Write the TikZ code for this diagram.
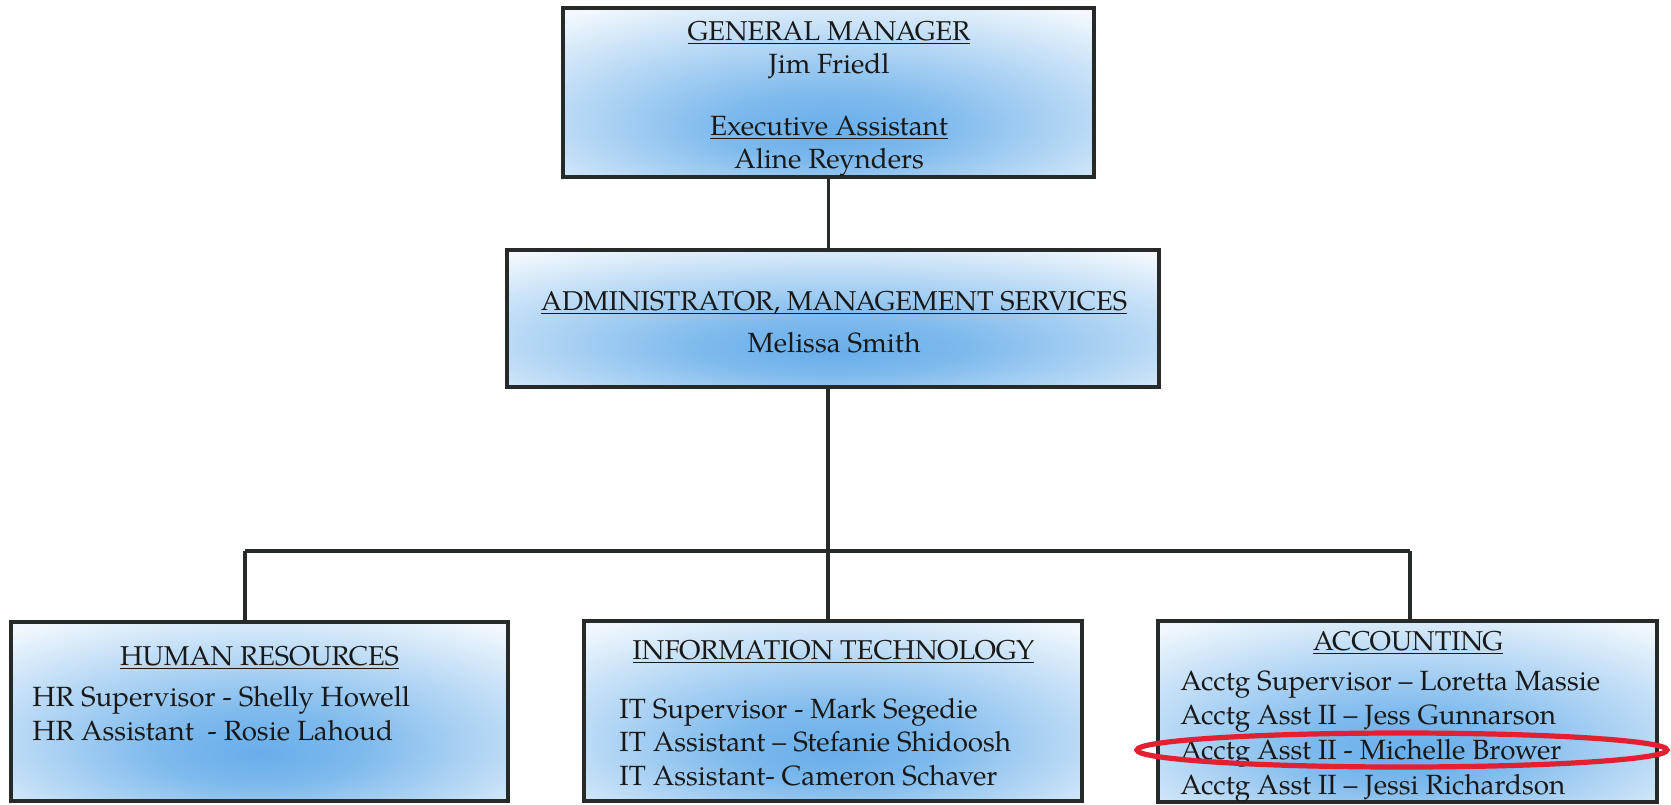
\documentclass[tikz,border=0pt]{standalone}
\usepackage{fontspec}
\setmainfont{TeX Gyre Pagella}
\definecolor{bluein}{RGB}{104,174,234}
\definecolor{blueout}{RGB}{242,248,253}
\definecolor{edge}{RGB}{38,42,40}
\definecolor{ink}{RGB}{25,25,25}
\definecolor{markred}{RGB}{226,32,50}
\pgfdeclareradialshading{orgshade}{\pgfpoint{0bp}{-12bp}}{color(0bp)=(bluein); color(10bp)=(bluein!85!blueout); color(38bp)=(blueout); color(80bp)=(blueout)}
\newcommand\hdul[1]{\setbox0\hbox{#1}\rlap{\rule[-2.2pt]{\wd0}{0.7pt}}\box0}
\begin{document}
\begin{tikzpicture}[x=0.5pt,y=-0.5pt,
  box/.style={draw=edge, line width=2pt, shading=orgshade, rectangle, inner sep=0pt},
  link/.style={draw=edge, line width=1.6pt},
  txt/.style={anchor=base, text=ink, font=\fontsize{13.6}{16}\selectfont, inner sep=0pt},
  ltxt/.style={txt, anchor=base west, font=\fontsize{13.9}{16}\selectfont}]
\useasboundingbox (0,0) rectangle (1671,804);
\fill[white] (0,0) rectangle (1671,804);
% boxes
\node[box, minimum width=265.5pt, minimum height=84.5pt] (gm) at (828.5,92.5) {};
\node[box, minimum width=326pt, minimum height=68.5pt] (admin) at (833,318.5) {};
\node[box, minimum width=248.5pt, minimum height=89.5pt] (hr) at (259.5,711.5) {};
\node[box, minimum width=249pt, minimum height=90pt] (it) at (833,711) {};
\node[box, minimum width=249.5pt, minimum height=90.5pt] (acct) at (1407.5,711.5) {};
% connectors
\coordinate (bus) at (828,551);
\coordinate (busL) at (245,551);
\coordinate (busR) at (1410,551);
\draw[link] (gm.south) -- (gm.south |- admin.north);
\draw[link] (bus |- admin.south) -- (bus);
\draw[link] (busL) -- (busR);
\draw[link] (busL) -- (busL |- hr.north);
\draw[link] (bus) -- (bus |- it.north);
\draw[link] (busR) -- (busR |- acct.north);
% general manager
\node[txt] (gmt) at (829,40) {\hdul{GENERAL MANAGER}};
\node[txt] (gmn) at (829,73) {\fontsize{13.9}{16}\selectfont Jim Friedl};
\node[txt] (eat) at (829,135) {\fontsize{13.9}{16}\selectfont\hdul{Executive Assistant}};
\node[txt] (ean) at (829,168) {\fontsize{13.9}{16}\selectfont Aline Reynders};
% administrator
\node[txt] (adt) at (834,310) {\hdul{ADMINISTRATOR, MANAGEMENT SERVICES}};
\node[txt] (adn) at (834,352) {\fontsize{13.9}{16}\selectfont Melissa Smith};
% human resources
\node[txt] (hrt) at (259.5,665) {\hdul{HUMAN RESOURCES}};
\node[ltxt] (hr1) at (32,706) {HR Supervisor - Shelly Howell};
\node[ltxt] (hr2) at (32,740) {HR Assistant\ \ - Rosie Lahoud};
% information technology
\node[txt] (itt) at (833.5,659) {\hdul{INFORMATION TECHNOLOGY}};
\node[ltxt] (it1) at (619,718) {IT Supervisor - Mark Segedie};
\node[ltxt] (it2) at (619,751) {IT Assistant – Stefanie Shidoosh};
\node[ltxt] (it3) at (619,785) {IT Assistant- Cameron Schaver};
% accounting
\node[txt] (act) at (1408,650) {\hdul{ACCOUNTING}};
\node[ltxt] (ac1) at (1180,690) {Acctg Supervisor – Loretta Massie};
\node[ltxt] (ac2) at (1180,724) {Acctg Asst II – Jess Gunnarson};
\node[ltxt] (ac3) at (1180,759) {Acctg Asst II - Michelle Brower};
\node[ltxt] (ac4) at (1180,794) {Acctg Asst II – Jessi Richardson};
% highlight
\draw[markred, line width=2.6pt] (1402,750) ellipse [x radius=132.5pt, y radius=8.5pt];
\end{tikzpicture}
\end{document}
